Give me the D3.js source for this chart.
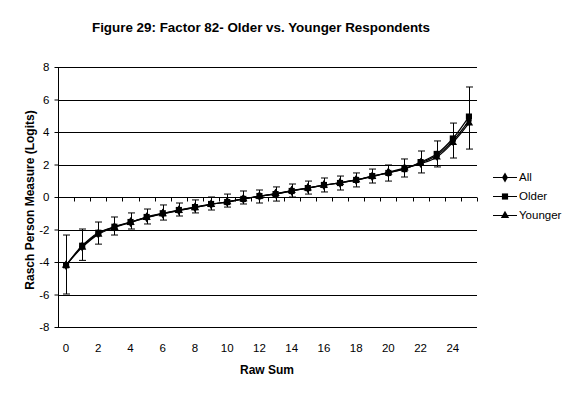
<!DOCTYPE html>
<html>
<head>
<meta charset="utf-8">
<script src="https://cdn.jsdelivr.net/npm/d3@7"></script>
<style>
body { margin: 0; background: #fff; }
text { font-family: Arial, "Liberation Sans", sans-serif; fill: #000; }
</style>
</head>
<body>
<svg id="chart" width="576" height="394"></svg>
<script>
var rawSum = [0,1,2,3,4,5,6,7,8,9,10,11,12,13,14,15,16,17,18,19,20,21,22,23,24,25]
var xLabels = [0,2,4,6,8,10,12,14,16,18,20,22,24]
var yTicks = [-8,-6,-4,-2,0,2,4,6,8]
var allVals = [-4.2,-3.05,-2.25,-1.85,-1.55,-1.25,-1.02,-0.82,-0.64,-0.45,-0.3,-0.12,0.05,0.2,0.38,0.55,0.73,0.87,1.05,1.27,1.5,1.75,2.1,2.55,3.45,4.7]
var olderVals = [-4.2,-3.0,-2.2,-1.83,-1.54,-1.23,-1.0,-0.8,-0.62,-0.43,-0.31,-0.12,0.06,0.18,0.37,0.55,0.74,0.86,1.05,1.29,1.48,1.72,2.15,2.65,3.6,4.95]
var youngerVals = [-4.2,-3.1,-2.3,-1.88,-1.57,-1.27,-1.04,-0.84,-0.66,-0.46,-0.3,-0.12,0.04,0.21,0.39,0.55,0.72,0.88,1.05,1.25,1.52,1.78,2.05,2.45,3.35,4.55]
var olderHi = [-2.34,-1.97,-1.54,-1.23,-0.98,-0.74,-0.49,-0.37,-0.18,0,0.18,0.37,0.43,0.62,0.8,0.98,1.17,1.29,1.48,1.72,1.97,2.34,2.83,3.45,4.55,6.77]
var olderLo = [-5.97,-3.9,-2.9,-2.34,-1.97,-1.66,-1.42,-1.17,-0.98,-0.8,-0.62,-0.43,-0.37,-0.25,0,0.18,0.31,0.43,0.62,0.86,0.98,1.23,1.48,1.85,2.4,2.95]

var svg = d3.select('#chart');
var plotLeft = 58, plotRight = 477, plotTop = 67, plotBottom = 327;

var xScale = d3.scaleBand().domain(rawSum).range([plotLeft, plotRight]).padding(0);
var bw = xScale.bandwidth();
var cx = function (d) { return xScale(d) + bw / 2; };
var yScale = d3.scaleLinear().domain([-8, 8]).range([plotBottom, plotTop]);

// title
svg.append('text')
    .attr('x', 261).attr('y', 32)
    .attr('text-anchor', 'middle')
    .style('font-size', '13.4px').style('font-weight', 'bold')
    .text('Figure 29: Factor 82- Older vs. Younger Respondents');

// gridlines
svg.append('g').selectAll('line')
    .data(yTicks.filter(function (t) { return t != 0; }))
    .enter().append('line')
    .attr('x1', plotLeft).attr('x2', plotRight)
    .attr('y1', function (d) { return Math.round(yScale(d)) + 0.5; })
    .attr('y2', function (d) { return Math.round(yScale(d)) + 0.5; })
    .attr('stroke', '#000');

// y axis
var yAxis = d3.axisLeft(yScale).tickValues(yTicks).tickSize(4).tickPadding(5)
    .tickFormat(function (d) { return String(d); });
var yg = svg.append('g').attr('transform', 'translate(' + (plotLeft + 0.5) + ',0)').call(yAxis);
yg.selectAll('text').style('font-size', '11.5px').style('font-family', 'Arial, "Liberation Sans", sans-serif').attr('fill', '#000');
yg.selectAll('line, path').attr('stroke', '#000');
yg.select('.domain').attr('d', 'M0,' + plotTop + 'V' + plotBottom);

// x axis at y = 0, ticks on band boundaries
var y0 = Math.round(yScale(0)) + 0.5;
svg.append('line').attr('x1', plotLeft).attr('x2', plotRight).attr('y1', y0).attr('y2', y0).attr('stroke', '#000');
svg.append('g').selectAll('line')
    .data(rawSum.concat([26]))
    .enter().append('line')
    .attr('x1', function (d) { return Math.round(plotLeft + d * bw) + 0.5; })
    .attr('x2', function (d) { return Math.round(plotLeft + d * bw) + 0.5; })
    .attr('y1', y0).attr('y2', y0 + 4)
    .attr('stroke', '#000');

svg.append('g').selectAll('text')
    .data(xLabels)
    .enter().append('text')
    .attr('x', function (d) { return cx(d); })
    .attr('y', 352)
    .attr('text-anchor', 'middle')
    .style('font-size', '11.5px')
    .text(function (d) { return d; });

// axis titles
svg.append('text')
    .attr('transform', 'translate(267,374)')
    .attr('text-anchor', 'middle')
    .style('font-size', '12px').style('font-weight', 'bold')
    .text('Raw Sum');
svg.append('text')
    .attr('transform', 'translate(34,200)rotate(270)')
    .attr('text-anchor', 'middle')
    .style('font-size', '12px').style('font-weight', 'bold')
    .text('Rasch Person Measure (Logits)');

// lines
var line = d3.line()
    .x(function (d, i) { return cx(rawSum[i]); })
    .y(function (d) { return yScale(d); })
    .curve(d3.curveCatmullRom.alpha(0.5));

[allVals, youngerVals, olderVals].forEach(function (vals) {
    svg.append('path').attr('d', line(vals))
        .attr('fill', 'none').attr('stroke', '#000').attr('stroke-width', 1.2);
});

// error bars (Older)
var eb = svg.append('g').attr('stroke', '#000');
rawSum.forEach(function (d, i) {
    var x = Math.round(cx(d)) + 0.5;
    var yh = yScale(olderHi[i]), yl = yScale(olderLo[i]);
    eb.append('line').attr('x1', x).attr('x2', x).attr('y1', yh).attr('y2', yl);
    eb.append('line').attr('x1', x - 3.5).attr('x2', x + 3.5).attr('y1', yh).attr('y2', yh);
    eb.append('line').attr('x1', x - 3.5).attr('x2', x + 3.5).attr('y1', yl).attr('y2', yl);
});

// markers
var diamond = d3.symbol().type(d3.symbolDiamond).size(30);
var square = d3.symbol().type(d3.symbolSquare).size(38);
var triangle = d3.symbol().type(d3.symbolTriangle).size(30);

function drawMarkers(vals, sym) {
    svg.append('g').selectAll('path')
        .data(vals)
        .enter().append('path')
        .attr('d', sym)
        .attr('transform', function (d, i) { return 'translate(' + cx(rawSum[i]) + ',' + yScale(d) + ')'; })
        .attr('fill', '#000');
}
drawMarkers(allVals, diamond);
drawMarkers(youngerVals, triangle);
drawMarkers(olderVals, square);

// legend
var legendItems = [
    { name: 'All', sym: diamond },
    { name: 'Older', sym: square },
    { name: 'Younger', sym: triangle }
];
var lg = svg.append('g');
legendItems.forEach(function (it, i) {
    var y = 177 + i * 19;
    lg.append('line').attr('x1', 493).attr('x2', 517).attr('y1', y + 0.5).attr('y2', y + 0.5).attr('stroke', '#000');
    lg.append('path').attr('d', it.sym).attr('transform', 'translate(505,' + (y + 0.5) + ')').attr('fill', '#000');
    lg.append('text').attr('x', 519).attr('y', y + 4).style('font-size', '11.5px').text(it.name);
});
</script>
</body>
</html>
